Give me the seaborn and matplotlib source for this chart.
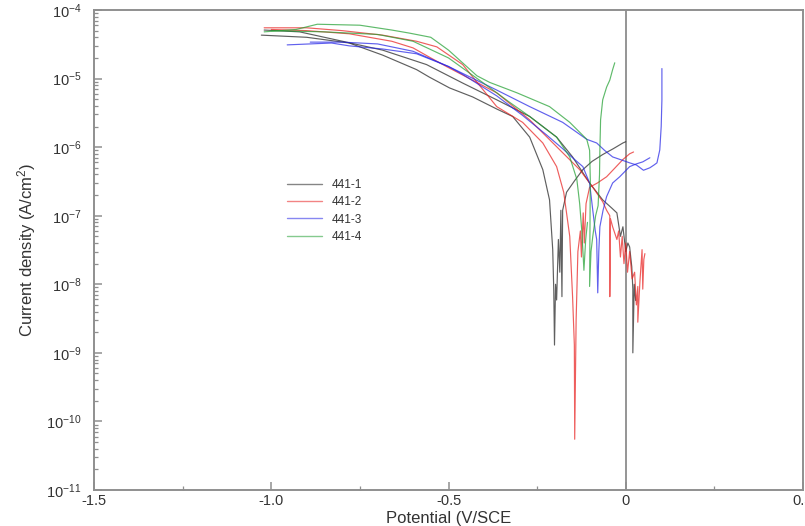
import numpy as np
import pandas as pd
import matplotlib
matplotlib.use("Agg")
import matplotlib.pyplot as plt
from matplotlib.lines import Line2D
from matplotlib.ticker import LogLocator, FixedLocator, FixedFormatter
import seaborn as sns

# ---- data (E in V/SCE, i in A/cm^2) ----
samples = ["441-1", "441-2", "441-3", "441-4"]
colors = ["#222222", "#e8201f", "#2424e6", "#22a032"]

# 441-1 : two scans
e_1a = [-1.028, -0.90, -0.78, -0.686, -0.59, -0.554, -0.497, -0.432, -0.364, -0.319, -0.271, -0.234,
        -0.215, -0.206, -0.203, -0.201, -0.198, -0.195, -0.190, -0.186, -0.183, -0.180, -0.178,
        -0.167, -0.145, -0.121, -0.095, -0.065, -0.035, -0.008, 0.0]
i_1a = [4.3e-5, 4.0e-5, 3.3e-5, 2.2e-5, 1.35e-5, 1.05e-5, 7.3e-6, 5.4e-6, 3.6e-6, 2.8e-6, 1.4e-6, 4.7e-7,
        1.7e-7, 3.2e-8, 8e-9, 1.3e-9, 1e-8, 5.9e-9, 4.5e-8, 1.5e-8, 1.2e-7, 6.6e-9, 1.2e-7,
        2.2e-7, 3.2e-7, 4.7e-7, 6.2e-7, 7.8e-7, 9.5e-7, 1.15e-6, 1.2e-6]
e_1b = [-1.02, -0.92, -0.788, -0.686, -0.562, -0.46, -0.364, -0.271, -0.195, -0.150, -0.102, -0.065,
        -0.040, -0.025, -0.015, -0.008, 0.0, 0.006, 0.011, 0.017, 0.020, 0.020, 0.024, 0.028]
i_1b = [5.1e-5, 4.8e-5, 3.4e-5, 2.6e-5, 1.6e-5, 8.6e-6, 4.9e-6, 2.8e-6, 1.4e-6, 7.2e-7, 3.0e-7, 1.7e-7,
        1.3e-7, 1.1e-7, 5e-8, 6.9e-8, 3e-8, 4e-8, 3.5e-8, 1.8e-8, 8.5e-9, 1.0e-9, 1e-8, 5.8e-9]

# 441-2 : two scans
e_2a = [-1.02, -0.90, -0.80, -0.686, -0.59, -0.533, -0.46, -0.364, -0.291, -0.234, -0.195, -0.175,
        -0.158, -0.150, -0.145, -0.144, -0.140, -0.135, -0.128, -0.125, -0.120, -0.117, -0.112,
        -0.102, -0.080, -0.054, -0.030, -0.008, 0.011, 0.022]
i_2a = [5.5e-5, 5.5e-5, 5.0e-5, 4.3e-5, 3.5e-5, 2.9e-5, 1.6e-5, 3.9e-6, 2.3e-6, 1.15e-6, 5.2e-7, 2.2e-7,
        5e-8, 6.6e-9, 1.3e-9, 5.5e-11, 3e-9, 3e-8, 6e-8, 2.5e-8, 1.1e-7, 4e-8, 1.5e-7,
        2.6e-7, 3.0e-7, 3.7e-7, 5e-7, 6.6e-7, 8.0e-7, 8.5e-7]
e_2b = [-1.00, -0.90, -0.78, -0.66, -0.60, -0.55, -0.506, -0.364, -0.271, -0.178, -0.130, -0.093,
        -0.065, -0.054, -0.045, -0.045, -0.043, -0.037, -0.025, -0.020, -0.015, -0.010, -0.005,
        0.0, 0.005, 0.011, 0.018, 0.025, 0.030, 0.034, 0.034, 0.040, 0.046, 0.048, 0.051, 0.054]
i_2b = [5.2e-5, 5.0e-5, 4.5e-5, 3.5e-5, 2.8e-5, 2.0e-5, 1.5e-5, 6.2e-6, 2.5e-6, 8.3e-7, 4.7e-7, 2.6e-7,
        1.6e-7, 1.2e-7, 1.0e-7, 6.6e-9, 9e-8, 6.9e-8, 4.5e-8, 6e-8, 2.5e-8, 5e-8, 2e-8,
        4e-8, 1.5e-8, 3e-8, 1.2e-8, 1.5e-8, 5e-9, 9.3e-9, 2.8e-9, 1.1e-8, 3.2e-8, 8.5e-9, 2.3e-8, 2.8e-8]

# 441-3 : two scans
e_3a = [-0.955, -0.83, -0.78, -0.686, -0.59, -0.50, -0.364, -0.271, -0.178, -0.110, -0.082, -0.060,
        -0.037, -0.012, 0.011, 0.030, 0.050, 0.068, 0.080, 0.088, 0.096, 0.100, 0.102, 0.102]
i_3a = [3.1e-5, 3.3e-5, 3.0e-5, 2.7e-5, 2.3e-5, 1.5e-5, 6.8e-6, 3.9e-6, 2.3e-6, 1.3e-6, 1.15e-6, 9e-7,
        7.2e-7, 6.5e-7, 5.9e-7, 5.5e-7, 4.6e-7, 5.0e-7, 5.5e-7, 5.9e-7, 9.1e-7, 2e-6, 4.9e-6, 1.4e-5]
e_3b = [-0.89, -0.80, -0.70, -0.60, -0.50, -0.46, -0.364, -0.291, -0.223, -0.178, -0.150, -0.121,
        -0.102, -0.093, -0.086, -0.082, -0.079, -0.076, -0.073, -0.064, -0.054, -0.037, -0.017,
        0.011, 0.030, 0.048, 0.068]
i_3b = [3.4e-5, 3.4e-5, 3.2e-5, 2.5e-5, 1.5e-5, 1.15e-5, 5.6e-6, 2.9e-6, 1.5e-6, 9.5e-7, 7.0e-7, 5.2e-7,
        3.0e-7, 1.2e-7, 6e-8, 4.5e-8, 7.5e-9, 3e-8, 6.9e-8, 1.2e-7, 1.9e-7, 3.0e-7, 3.7e-7,
        5.2e-7, 5.7e-7, 6.1e-7, 7.0e-7]

# 441-4 : two scans
e_4a = [-1.02, -0.93, -0.87, -0.75, -0.66, -0.61, -0.55, -0.50, -0.42, -0.384, -0.307, -0.215,
        -0.158, -0.110, -0.102, -0.100, -0.102, -0.098, -0.093, -0.085, -0.078, -0.074, -0.073,
        -0.071, -0.065, -0.054, -0.045, -0.037, -0.031]
i_4a = [4.8e-5, 5.2e-5, 6.2e-5, 6.0e-5, 5.1e-5, 4.6e-5, 4.0e-5, 2.6e-5, 1.1e-5, 8.8e-6, 6.2e-6, 3.9e-6,
        2.3e-6, 1.3e-6, 9e-7, 3.4e-7, 9.3e-9, 3e-8, 5e-8, 1e-7, 1.4e-7, 4e-7, 9e-7,
        2.5e-6, 4.9e-6, 7.5e-6, 9.5e-6, 1.35e-5, 1.7e-5]
e_4b = [-1.00, -0.85, -0.70, -0.60, -0.50, -0.40, -0.33, -0.271, -0.195, -0.158, -0.138, -0.130,
        -0.124, -0.121, -0.118, -0.113, -0.108]
i_4b = [5.0e-5, 4.8e-5, 4.4e-5, 3.5e-5, 2.0e-5, 8.5e-6, 4.6e-6, 2.8e-6, 1.4e-6, 7.2e-7, 3.4e-7, 1.5e-7,
        6e-8, 3.2e-8, 1.6e-8, 4.5e-8, 8e-8]

x_ticks = [-1.5, -1.0, -0.5, 0.0, 0.5]
x_tick_labels = ["-1.5", "-1.0", "-0.5", "0", "0.5"]

# ---- build long table ----
runs = [
    ("441-1", "a", e_1a, i_1a), ("441-1", "b", e_1b, i_1b),
    ("441-2", "a", e_2a, i_2a), ("441-2", "b", e_2b, i_2b),
    ("441-3", "a", e_3a, i_3a), ("441-3", "b", e_3b, i_3b),
    ("441-4", "a", e_4a, i_4a), ("441-4", "b", e_4b, i_4b),
]
frames = []
for s, r, e, i in runs:
    frames.append(pd.DataFrame({"E": e, "i": i, "sample": s, "run": s + r}))
df = pd.concat(frames, ignore_index=True)

sns.set_style("ticks")
plt.rcParams["font.family"] = ["Liberation Sans", "DejaVu Sans"]
plt.rcParams["mathtext.fontset"] = "custom"
plt.rcParams["mathtext.rm"] = "Liberation Sans"
plt.rcParams["mathtext.it"] = "Liberation Sans"

fig = plt.figure(figsize=(8.05, 5.26), dpi=100)
ax = fig.add_axes([94 / 805, 1 - 490 / 526, 709 / 805, 480 / 526])

palette = dict(zip(samples, colors))
sns.lineplot(data=df, x="E", y="i", hue="sample", units="run", estimator=None, sort=False,
             palette=palette, linewidth=0.85, alpha=0.72, legend=False, ax=ax)

ax.axvline(0, color="#8c8c8c", lw=1.3, zorder=0)

ax.set_yscale("log")
ax.set_xlim(-1.5, 0.5)
ax.set_ylim(1e-11, 1e-4)
ax.xaxis.set_major_locator(FixedLocator(x_ticks))
ax.xaxis.set_major_formatter(FixedFormatter(x_tick_labels))
ax.xaxis.set_minor_locator(FixedLocator([-1.25, -0.75, -0.25, 0.25]))
ax.yaxis.set_major_locator(LogLocator(base=10, numticks=20))
ax.yaxis.set_minor_locator(LogLocator(base=10, subs=np.arange(2, 10), numticks=20))

gray = "#8f8f8f"
for sp in ax.spines.values():
    sp.set_color(gray)
    sp.set_linewidth(1.4)
ax.tick_params(axis="both", which="both", direction="in", color=gray, labelcolor="#333333")
ax.tick_params(axis="both", which="major", length=6, width=1.1, labelsize=10.5)
ax.tick_params(axis="both", which="minor", length=3, width=0.9)
ax.tick_params(axis="y", which="major", pad=9)
ax.tick_params(axis="x", which="major", pad=3)
ax.tick_params(top=False, right=False, which="both")

ax.set_xlabel("Potential (V/SCE", fontsize=12, color="#333333", labelpad=2)
ax.set_ylabel("Current density (A/cm$^2$)", fontsize=12, color="#333333", labelpad=6)

handles = [Line2D([0], [0], color=c, lw=1.0, alpha=0.55) for c in colors]
ax.legend(handles, samples, loc="upper left", bbox_to_anchor=(0.272, 0.648), frameon=False,
          fontsize=8.5, handlelength=3.0, handletextpad=0.8, labelspacing=0.45,
          borderpad=0, borderaxespad=0, labelcolor="#333333")

fig.savefig("out.png", dpi=100)
